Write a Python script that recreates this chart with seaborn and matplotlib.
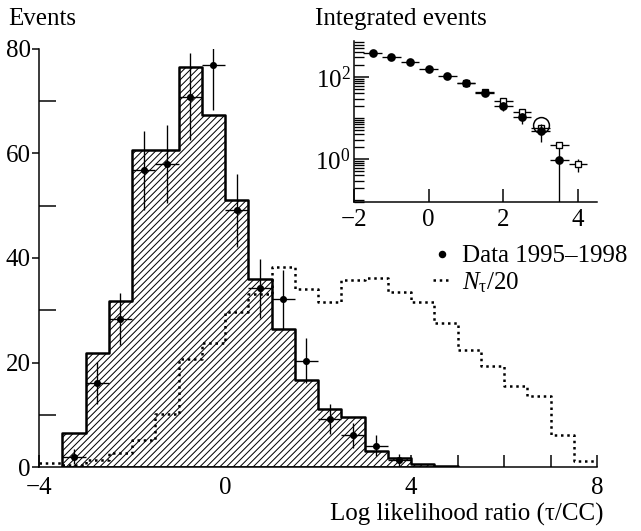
import numpy as np
import pandas as pd
import matplotlib
matplotlib.use("Agg")
import matplotlib.pyplot as plt
import seaborn as sns
from matplotlib.lines import Line2D
from matplotlib.ticker import FixedLocator, LogFormatterMathtext, NullFormatter

# ---------------- data ----------------
mc_edges = [-3.5, -3.0, -2.5, -2.0, -1.5, -1.0, -0.5, 0.0, 0.5, 1.0, 1.5,
            2.0, 2.5, 3.0, 3.5, 4.0, 4.5, 5.0]
mc_counts = [6.6, 21.9, 31.8, 60.7, 60.7, 76.6, 67.3, 51.1, 36.0, 26.4, 16.7,
             11.1, 9.5, 3.1, 1.8, 0.6, 0.25]

ntau_edges = [-4.0, -3.5, -3.0, -2.5, -2.0, -1.5, -1.0, -0.5, 0.0, 0.5, 1.0,
              1.5, 2.0, 2.5, 3.0, 3.5, 4.0, 4.5, 5.0, 5.5, 6.0, 6.5, 7.0, 7.5, 8.0]
ntau_counts = [0.8, 0.4, 1.3, 2.7, 5.2, 10.1, 20.6, 23.8, 29.7, 33.2, 38.3,
               34.0, 31.5, 35.8, 36.2, 33.5, 31.6, 27.6, 22.3, 19.3, 15.5,
               13.5, 6.1, 1.2]

data_x = [-3.25, -2.75, -2.25, -1.75, -1.25, -0.75, -0.25, 0.25, 0.75, 1.25,
          1.75, 2.25, 2.75, 3.25, 3.75]
data_y = [2.0, 16.1, 28.3, 56.8, 58.0, 70.9, 76.9, 49.1, 34.2, 32.1, 20.3,
          9.2, 6.1, 4.1, 1.3]
data_yerr = [1.4, 4.0, 5.0, 7.6, 7.5, 8.3, 8.6, 6.9, 5.7, 5.6, 4.3, 2.9, 2.4,
             2.0, 1.1]
data_xerr = 0.25

int_x = [-1.5, -1.0, -0.5, 0.0, 0.5, 1.0, 1.5, 2.0, 2.5, 3.0, 3.5]
int_y = [392, 302, 228, 157, 108, 70, 40, 19.6, 10.4, 4.8, 0.95]
int_yerr = [20, 17, 15, 12.5, 10, 8.4, 6.3, 4.4, 3.2, 2.2, 0.95]

mcint_x = [1.0, 1.5, 2.0, 2.5, 3.0, 3.5, 4.0]
mcint_y = [72, 43, 26.3, 14.0, 5.6, 2.2, 0.74]
mcint_yerr = [0, 0, 0, 0, 0.5, 0.3, 0.25]

circle_x = [3.0]
circle_y = [6.8]

legend_labels = ["Data 1995\u20131998", r"$N_{\mathrm{\tau}}$/20"]

# ---------------- style ----------------
sns.set_theme(style="ticks")
plt.rcParams.update({
    "font.family": ["Liberation Serif", "DejaVu Serif"],
    "mathtext.fontset": "custom",
    "mathtext.rm": "Liberation Serif",
    "mathtext.it": "Liberation Serif:italic",
    "axes.edgecolor": "black",
    "xtick.color": "black",
    "ytick.color": "black",
    "text.color": "black",
    "axes.labelcolor": "black",
    "hatch.linewidth": 0.6,
    "hatch.color": "black",
})

W, H = 641, 531
DPI = 120
FS = 15
fig = plt.figure(figsize=(W / DPI, H / DPI), dpi=DPI)


def fr(x0, y0, x1, y1):
    return [x0 / W, 1 - y1 / H, (x1 - x0) / W, (y1 - y0) / H]


ax = fig.add_axes(fr(39, 49, 597, 467))

mc_centers = [(a + b) / 2 for a, b in zip(mc_edges[:-1], mc_edges[1:])]
ntau_centers = [(a + b) / 2 for a, b in zip(ntau_edges[:-1], ntau_edges[1:])]

sns.histplot(x=mc_centers, weights=mc_counts, bins=mc_edges, element="step",
             fill=True, color="black", ax=ax)
poly = ax.collections[-1]
poly.set_facecolor("white")
poly.set_edgecolor("black")
poly.set_hatch("//////")
poly.set_linewidth(1.5)
poly.set_alpha(1)

sns.histplot(x=ntau_centers, weights=ntau_counts, bins=ntau_edges,
             element="step", fill=False, color="black", ax=ax,
             linestyle=(0, (1, 1.5)), linewidth=1.5)

ax.errorbar(data_x, data_y, yerr=data_yerr, xerr=data_xerr, fmt="none",
            ecolor="black", elinewidth=0.8, capsize=0, zorder=4)
sns.scatterplot(x=data_x, y=data_y, color="black", s=18, edgecolor="black",
                linewidth=0, ax=ax, zorder=5)

ax.set_xlim(-4, 8)
ax.set_ylim(0, 80)
sns.despine(ax=ax)
for s in ("left", "bottom"):
    ax.spines[s].set_linewidth(0.9)
ax.set_xlabel("")
ax.set_ylabel("")
ax.set_xticks([-4, 0, 4, 8])
ax.set_xticks([-3, -2, -1, 1, 2, 3, 5, 6, 7], minor=True)
ax.set_yticks([0, 20, 40, 60, 80])
ax.set_yticks([10, 30, 50, 70], minor=True)
ax.tick_params(axis="x", which="both", direction="in", length=7, width=0.9,
               labelsize=FS, pad=6)
ax.tick_params(axis="y", which="major", direction="out", length=4, width=0.9,
               labelsize=FS, pad=1)
ax.tick_params(axis="y", which="minor", direction="in", length=10, width=0.9)

fig.text(8 / W, 1 - 25 / H, "Events", fontsize=FS, ha="left", va="baseline")
fig.text(603 / W, 1 - 521 / H, "Log likelihood ratio (\u03c4/CC)", fontsize=FS,
         ha="right", va="baseline")

# ---------------- inset ----------------
axin = fig.add_axes(fr(354, 40.7, 596.7, 202))
axin.patch.set_visible(False)
axin.set_yscale("log")
axin.errorbar(mcint_x, mcint_y, yerr=mcint_yerr, xerr=data_xerr, fmt="s",
              mfc="white", mec="black", ms=3.8, mew=0.8, ecolor="black",
              elinewidth=0.8, capsize=0, zorder=3)
axin.errorbar(int_x, int_y, yerr=int_yerr, xerr=data_xerr, fmt="o",
              color="black", ms=4.2, ecolor="black", elinewidth=0.8,
              capsize=0, zorder=4)
axin.plot(circle_x, circle_y, marker="o", mfc="none", mec="black", ms=9.5,
          mew=0.9, linestyle="none", zorder=5)
axin.set_xlim(-2, 4.5)
axin.set_ylim(0.09, 770)
sns.despine(ax=axin)
for s in ("left", "bottom"):
    axin.spines[s].set_linewidth(0.9)
axin.set_xticks([-2, 0, 2, 4])
axin.yaxis.set_major_locator(FixedLocator([1, 100]))
axin.yaxis.set_major_formatter(LogFormatterMathtext())
minor_pos = [m * 10.0 ** k for k in range(-2, 3) for m in range(1, 10)]
minor_pos = [v for v in minor_pos if v not in (1, 100)]
axin.yaxis.set_minor_locator(FixedLocator(minor_pos))
axin.yaxis.set_minor_formatter(NullFormatter())
axin.tick_params(axis="x", which="both", direction="in", length=8, width=0.9,
                 labelsize=FS, pad=4)
axin.tick_params(axis="y", which="major", direction="in", length=9, width=0.9,
                 labelsize=FS, pad=2)
axin.tick_params(axis="y", which="minor", direction="in", length=6, width=0.8)

fig.text(315 / W, 1 - 25 / H, "Integrated events", fontsize=FS, ha="left",
         va="baseline")

handles = [
    Line2D([], [], marker="o", color="black", linestyle="none", markersize=3.5),
    Line2D([], [], color="black", linestyle=(0, (1, 1.5)), linewidth=1.5),
]
fig.legend(handles, legend_labels, loc="upper left",
           bbox_to_anchor=(433 / W, 1 - 245 / H), frameon=False, fontsize=FS,
           handlelength=0.7, handletextpad=0.45, borderpad=0,
           borderaxespad=0, labelspacing=0.1)

fig.savefig("out.png", dpi=DPI)
